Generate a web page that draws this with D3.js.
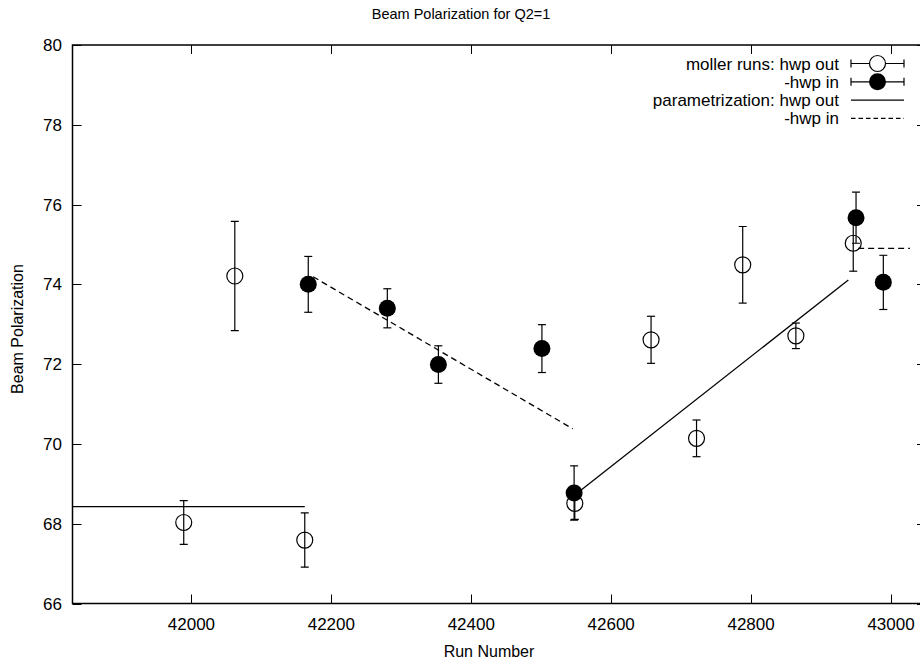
<!DOCTYPE html>
<html>
<head>
<meta charset="utf-8">
<script src="https://cdn.jsdelivr.net/npm/d3@7"></script>
<style>
  body { margin: 0; background: #fff; }
  svg { display: block; font-family: "Liberation Sans", Arial, sans-serif; }
</style>
</head>
<body>
<svg id="chart" width="920" height="663"></svg>
<script>
// moller runs, hwp out
const runsOut = [41989, 42062, 42162, 42548, 42657, 42722, 42788, 42864, 42946];
const polOut  = [68.03, 74.21, 67.59, 68.51, 72.61, 70.14, 74.49, 72.71, 75.03];
const errOut  = [0.55, 1.37, 0.68, 0.40, 0.59, 0.46, 0.96, 0.32, 0.70];

// moller runs, hwp in (sign flipped)
const runsIn = [42167, 42280, 42353, 42501, 42547, 42950, 42989];
const polIn  = [74.00, 73.40, 71.99, 72.39, 68.77, 75.67, 74.05];
const errIn  = [0.70, 0.49, 0.47, 0.60, 0.68, 0.64, 0.68];

// parametrization segments [run start, run end, pol start, pol end]
const paramOut = [[41830, 42162, 68.43, 68.43], [42548, 42939, 68.72, 74.11]];
const paramIn  = [[42174, 42545, 74.19, 70.38], [42953, 43027, 74.90, 74.90]];

const xTicks = [42000, 42200, 42400, 42600, 42800, 43000];
const yTicks = [66, 68, 70, 72, 74, 76, 78, 80];

const legendLabels = ["moller runs: hwp out", "-hwp in", "parametrization: hwp out", "-hwp in"];

const svg = d3.select("#chart");
const plot = { left: 72.5, right: 926, top: 45, bottom: 603.5 };

const x = d3.scaleLinear().domain([41830, 43050]).range([plot.left, plot.right]);
const y = d3.scaleLinear().domain([66, 80]).range([plot.bottom, plot.top]);

svg.append("defs").append("clipPath").attr("id", "clip")
  .append("rect")
  .attr("x", plot.left).attr("y", plot.top)
  .attr("width", plot.right - plot.left).attr("height", plot.bottom - plot.top);

// ticks (gnuplot style: inward, mirrored)
const tickLen = 9;
const tickG = svg.append("g").attr("stroke", "#000").attr("stroke-width", 1);
xTicks.forEach(t => {
  const px = Math.round(x(t)) + 0.5;
  tickG.append("line").attr("x1", px).attr("x2", px).attr("y1", plot.bottom).attr("y2", plot.bottom - tickLen);
  tickG.append("line").attr("x1", px).attr("x2", px).attr("y1", plot.top).attr("y2", plot.top + tickLen);
});
yTicks.forEach(t => {
  const py = Math.round(y(t)) + 0.5;
  tickG.append("line").attr("x1", plot.left).attr("x2", plot.left + tickLen).attr("y1", py).attr("y2", py);
  tickG.append("line").attr("x1", plot.right).attr("x2", plot.right - tickLen).attr("y1", py).attr("y2", py);
});

// frame
svg.append("rect")
  .attr("x", plot.left).attr("y", plot.top)
  .attr("width", plot.right - plot.left).attr("height", plot.bottom - plot.top)
  .attr("fill", "none").attr("stroke", "#000").attr("stroke-width", 1.5);

// tick labels
svg.append("g").selectAll("text").data(xTicks).join("text")
  .attr("x", d => x(d)).attr("y", 629.5)
  .attr("text-anchor", "middle").attr("font-size", 17).text(d => d);
svg.append("g").selectAll("text").data(yTicks).join("text")
  .attr("x", 62).attr("y", d => y(d) + 6)
  .attr("text-anchor", "end").attr("font-size", 17).text(d => d);

// titles
svg.append("text").attr("x", 461).attr("y", 19).attr("text-anchor", "middle")
  .attr("font-size", 14.5).text("Beam Polarization for Q2=1");
svg.append("text").attr("x", 489).attr("y", 657).attr("text-anchor", "middle")
  .attr("font-size", 16).text("Run Number");
svg.append("text").attr("transform", "translate(23,329) rotate(-90)").attr("text-anchor", "middle")
  .attr("font-size", 16).text("Beam Polarization");

const g = svg.append("g").attr("clip-path", "url(#clip)");

// parametrization lines
function drawSegments(segs, dash) {
  g.append("g").selectAll("line").data(segs).join("line")
    .attr("x1", d => x(d[0])).attr("x2", d => x(d[1]))
    .attr("y1", d => y(d[2])).attr("y2", d => y(d[3]))
    .attr("stroke", "#000").attr("stroke-width", 1.3)
    .attr("stroke-dasharray", dash);
}
drawSegments(paramOut, null);
drawSegments(paramIn, "6,4");

// error bars + points
const capW = 4, r = 8.5;
function drawPoints(runs, pol, err, filled) {
  const data = runs.map((d, i) => ({ run: d, pol: pol[i], err: err[i] }));
  const grp = g.append("g");
  const eb = grp.selectAll("g").data(data).join("g").attr("stroke", "#000").attr("stroke-width", 1.2);
  eb.append("line").attr("x1", d => x(d.run)).attr("x2", d => x(d.run))
    .attr("y1", d => y(d.pol - d.err)).attr("y2", d => y(d.pol + d.err));
  eb.append("line").attr("x1", d => x(d.run) - capW).attr("x2", d => x(d.run) + capW)
    .attr("y1", d => y(d.pol - d.err)).attr("y2", d => y(d.pol - d.err));
  eb.append("line").attr("x1", d => x(d.run) - capW).attr("x2", d => x(d.run) + capW)
    .attr("y1", d => y(d.pol + d.err)).attr("y2", d => y(d.pol + d.err));
  grp.selectAll("circle").data(data).join("circle")
    .attr("cx", d => x(d.run)).attr("cy", d => y(d.pol)).attr("r", filled ? r : r - 0.5)
    .attr("fill", filled ? "#000" : "none")
    .attr("stroke", "#000").attr("stroke-width", filled ? 0 : 1.2);
}
drawPoints(runsOut, polOut, errOut, false);
drawPoints(runsIn, polIn, errIn, true);

// legend
const legX = 839, legY0 = 63.5, legDy = 18.3, sx1 = 851, sx2 = 904;
const leg = svg.append("g");
legendLabels.forEach((lab, i) => {
  const ly = legY0 + i * legDy;
  leg.append("text").attr("x", legX).attr("y", ly + 6).attr("text-anchor", "end")
    .attr("font-size", 17).text(lab);
  if (i < 2) {
    const cx = (sx1 + sx2) / 2;
    leg.append("line").attr("x1", sx1).attr("x2", sx2).attr("y1", ly).attr("y2", ly)
      .attr("stroke", "#000").attr("stroke-width", 1.2);
    [sx1, sx2].forEach(sx => leg.append("line").attr("x1", sx).attr("x2", sx)
      .attr("y1", ly - 4).attr("y2", ly + 4).attr("stroke", "#000").attr("stroke-width", 1.2));
    leg.append("circle").attr("cx", cx).attr("cy", ly).attr("r", i === 0 ? r - 0.5 : r)
      .attr("fill", i === 0 ? "#fff" : "#000").attr("stroke", "#000").attr("stroke-width", i === 0 ? 1.2 : 0);
  } else {
    leg.append("line").attr("x1", sx1).attr("x2", sx2).attr("y1", ly).attr("y2", ly)
      .attr("stroke", "#000").attr("stroke-width", 1.3)
      .attr("stroke-dasharray", i === 3 ? "4.5,3" : null);
  }
});
</script>
</body>
</html>
